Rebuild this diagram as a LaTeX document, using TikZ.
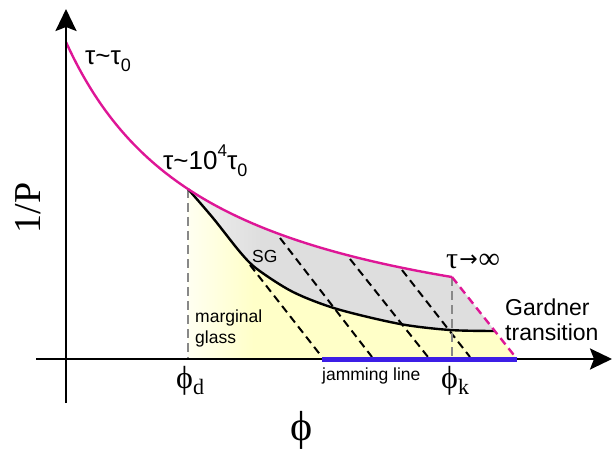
\documentclass[tikz,border=0pt]{standalone}
\usepackage{fontspec}
\setmainfont{Liberation Serif}
\newfontfamily\sansf{Liberation Sans}
\newfontfamily\dejas{DejaVu Sans}
\usetikzlibrary{arrows.meta}
\definecolor{mag}{RGB}{222,22,150}
\definecolor{jblue}{RGB}{60,30,230}
\definecolor{ylw}{RGB}{255,255,200}
\definecolor{gfill}{RGB}{222,222,222}
\definecolor{glight}{RGB}{240,240,240}
\definecolor{vgray}{RGB}{136,136,136}
\pgfdeclarehorizontalshading{yshade}{100bp}{color(0bp)=(ylw!25); color(25bp)=(ylw!25); color(35bp)=(ylw); color(100bp)=(ylw)}
\pgfdeclarehorizontalshading{gshade}{100bp}{color(0bp)=(glight); color(25bp)=(glight); color(37bp)=(gfill); color(100bp)=(gfill)}
\tikzset{
  axisline/.style={line width=2.6pt,-{Stealth[length=22pt,width=21pt,inset=4pt]}},
  magline/.style={draw=mag,line width=2.4pt},
  blkcurve/.style={draw=black,line width=2.4pt},
  dline/.style={draw=black,line width=2pt,dash pattern=on 8pt off 5pt},
  vdash/.style={draw=vgray,line width=2.4pt,dash pattern=on 9pt off 5pt},
  sanslabel/.style={font=\sansf\fontsize{23}{26}\selectfont,inner sep=0pt},
  taulabel/.style={font=\sansf\fontsize{26}{28}\selectfont,inner sep=0pt},
  smalllabel/.style={font=\sansf\fontsize{17.5}{21}\selectfont,inner sep=0pt,align=left},
  serlabel/.style={font=\fontsize{32}{36}\selectfont,inner sep=0pt},
}
\newcommand{\magfun}[1]{366.9-100*(479.48/(#1+81.6))}
\begin{document}
\begin{tikzpicture}[x=1pt,y=-1pt]
\useasboundingbox (0,0) rectangle (613,449);
% key points
\coordinate (D) at (188,189);
\coordinate (K) at (452,277);
\coordinate (G) at (495,331);
\coordinate (J) at (517,359);
\coordinate (Dx) at (188,359);
\coordinate (Kx) at (452,359);
\coordinate (Ja) at (322,359);
% yellow fill
\shade[shading=yshade] (D)
  -- plot[smooth,tension=0.5] coordinates {(188,189) (213,218) (240,252) (257,269) (293,292) (337,309) (400,324) (450,330) (495,331)}
  -- (J) -- (Dx) -- cycle;
% gray fill
\shade[shading=gshade]
  plot[domain=188:452,samples=60] (\x,{\magfun{\x}})
  -- (G)
  -- plot[smooth,tension=0.5] coordinates {(495,331) (450,330) (400,324) (337,309) (293,292) (257,269) (240,252) (213,218) (188,189)}
  -- cycle;
% dashed black lines
\coordinate (a1) at (250,265); \coordinate (b1) at (322,357);
\coordinate (a2) at (280,238); \coordinate (b2) at (372,357);
\coordinate (a3) at (350,259); \coordinate (b3) at (428,357);
\coordinate (a4) at (402,270); \coordinate (b4) at (470,357);
\draw[dline] (a1) -- (b1);
\draw[dline] (a2) -- (b2);
\draw[dline] (a3) -- (b3);
\draw[dline] (a4) -- (b4);
% gray vertical dashed
\draw[vdash] (D) -- (Dx);
\draw[vdash] (K) -- (Kx);
% black curve
\draw[blkcurve] plot[smooth,tension=0.5] coordinates {(188,189) (213,218) (240,252) (257,269) (293,292) (337,309) (400,324) (450,330) (495,331)};
% magenta curve
\draw[magline] plot[domain=66:452,samples=100] (\x,{\magfun{\x}});
\draw[magline,dash pattern=on 8pt off 5pt] (K) -- (J);
% axes
\coordinate (xs) at (36,359); \coordinate (xe) at (612,359);
\coordinate (ys) at (66,403); \coordinate (ye) at (66,9);
\draw[axisline] (xs) -- (xe);
\draw[axisline] (ys) -- (ye);
% jamming line
\draw[jblue,line width=5pt] (Ja) -- (J);
% labels
\node[taulabel,anchor=base west] (t0) at (85,65) {τ\textasciitilde τ\raisebox{-0.25em}{\fontsize{18}{18}\selectfont 0}};
\node[taulabel,anchor=base west] (t4) at (163,170) {τ\textasciitilde 10\raisebox{0.5em}{\fontsize{17}{17}\selectfont 4}τ\raisebox{-0.25em}{\fontsize{18}{18}\selectfont 0}};
\node[font=\fontsize{30}{32}\selectfont,inner sep=0pt,anchor=base west] (tinf) at (446,268) {τ\kern1pt{\dejas\fontsize{22}{24}\selectfont\raisebox{0.05em}{→}}\kern1pt∞};
\node[sanslabel,anchor=base west,align=left] (gard) at (505,315) {Gardner};
\node[sanslabel,anchor=base west] (trans) at (505,340) {transition};
\node[smalllabel,anchor=base west] (sg) at (252,262) {SG};
\node[smalllabel,anchor=base west] (marg) at (195,322) {marginal};
\node[smalllabel,anchor=base west] (glass) at (195,343) {glass};
\node[smalllabel,anchor=base west] (jam) at (322,380) {jamming line};
\node[serlabel,anchor=base west] (phd) at (176,388) {\char"03D5\raisebox{-0.2em}{\fontsize{22}{24}\selectfont d}};
\node[serlabel,anchor=base west] (phk) at (441,388) {\char"03D5\raisebox{-0.2em}{\fontsize{22}{24}\selectfont k}};
\node[font=\fontsize{42}{44}\selectfont,inner sep=0pt,anchor=base] (ph) at (302,440) {\char"03D5};
\node[font=\fontsize{38}{40}\selectfont,inner sep=0pt,rotate=90,anchor=base] (invp) at (40,208) {1/P};
\end{tikzpicture}
\end{document}
